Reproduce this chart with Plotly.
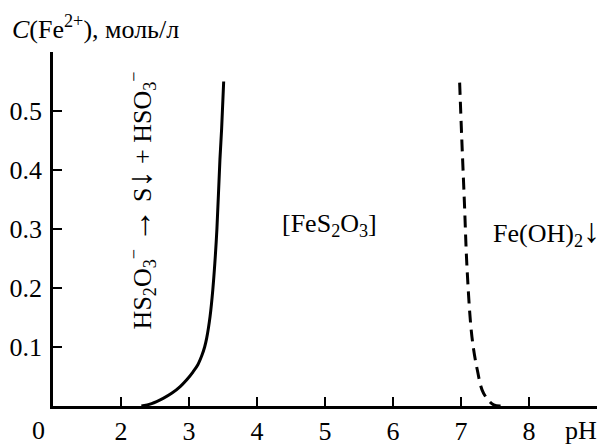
import plotly.graph_objects as go

# Data
solid_ph = [2.30, 2.45, 2.62, 2.75, 2.87, 2.97, 3.06, 3.13, 3.19, 3.23, 3.26, 3.31, 3.35, 3.38, 3.41, 3.455, 3.48, 3.51]
solid_c = [0.0, 0.004, 0.013, 0.022, 0.033, 0.045, 0.058, 0.070, 0.086, 0.100, 0.115, 0.152, 0.197, 0.242, 0.299, 0.418, 0.47, 0.55]

dashed_ph = [6.98, 7.01, 7.05, 7.09, 7.16, 7.24, 7.33, 7.48, 7.60]
dashed_c = [0.548, 0.457, 0.345, 0.231, 0.118, 0.061, 0.022, 0.002, 0.0]

x_tickvals = [2, 3, 4, 5, 6, 7, 8]
x_ticktext = ["2", "3", "4", "5", "6", "7", "8"]
y_tickvals = [0.1, 0.2, 0.3, 0.4, 0.5, 0.6]
y_ticktext = ["0.1", "0.2", "0.3", "0.4", "0.5", ""]

FONT = "Liberation Serif, Times New Roman, serif"
FS = 26
ARR = '<span style="font-size:34px">{}</span>'

fig = go.Figure()
fig.add_trace(go.Scatter(x=solid_ph, y=solid_c, mode="lines",
                         line=dict(color="black", width=3, shape="spline", smoothing=1.0),
                         showlegend=False, hoverinfo="skip"))
fig.add_trace(go.Scatter(x=dashed_ph, y=dashed_c, mode="lines",
                         line=dict(color="black", width=3, dash="12px,7px", shape="spline", smoothing=1.0),
                         showlegend=False, hoverinfo="skip"))

annos = [
    dict(text="<i>C</i>(Fe<sup>2+</sup>), моль/л", xref="paper", yref="paper",
         x=-0.079, y=1.07, xanchor="left", yanchor="middle"),
    dict(text="[FeS<sub>2</sub>O<sub>3</sub>]", xref="x", yref="y",
         x=5.07, y=0.307, xanchor="center", yanchor="middle"),
    dict(text="Fe(OH)<sub>2</sub>" + ARR.format("↓"), xref="x", yref="y",
         x=7.44, y=0.296, xanchor="left", yanchor="middle"),
    dict(text="HS<sub>2</sub>O<sub>3</sub><sup>−</sup> " + ARR.format("→") + " S" + ARR.format("↓")
              + " + HSO<sub>3</sub><sup>−</sup>",
         xref="x", yref="y", x=2.29, y=0.348, xanchor="center", yanchor="middle",
         textangle=-90),
    dict(text="0", xref="x", yref="y", x=1, y=0, xshift=-15, yshift=-24,
         xanchor="center", yanchor="middle"),
    dict(text="pH", xref="x", yref="y", x=8.76, y=0, yshift=-24,
         xanchor="center", yanchor="middle"),
]
for a in annos:
    a.update(showarrow=False, font=dict(family=FONT, size=FS, color="black"))
    fig.add_annotation(**a)

# page body has an 8px default margin, so the figure is 8px smaller than the window
fig.update_layout(
    width=597, height=437,
    margin=dict(l=45, r=8, t=44, b=39),
    paper_bgcolor="white", plot_bgcolor="white",
    font=dict(family=FONT, size=FS, color="black"),
    xaxis=dict(range=[1, 9], tickvals=x_tickvals, ticktext=x_ticktext,
               showgrid=False, zeroline=False, showline=True, linecolor="black",
               linewidth=2.5, ticks="inside", ticklen=9, tickwidth=2, tickcolor="black",
               ticklabelstandoff=0, automargin=False),
    yaxis=dict(range=[0, 0.6], tickvals=y_tickvals, ticktext=y_ticktext,
               showgrid=False, zeroline=False, showline=True, linecolor="black",
               linewidth=2.5, ticks="inside", ticklen=9, tickwidth=2, tickcolor="black",
               ticklabelstandoff=3, automargin=False),
)

fig.write_html("out.html")
